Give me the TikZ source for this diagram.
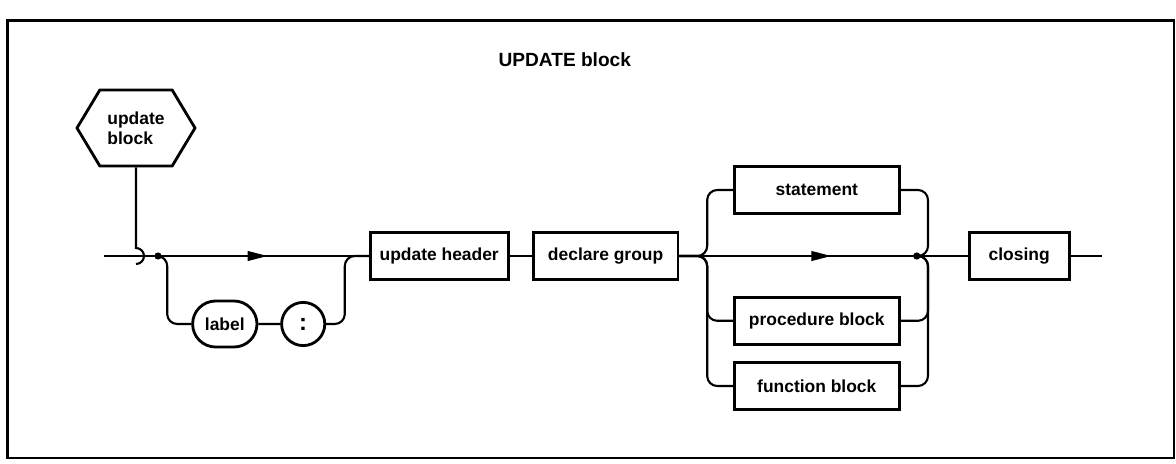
\documentclass[tikz,border=0pt]{standalone}
\usepackage{fontspec}
\setmainfont{Liberation Sans}
\usetikzlibrary{shapes.symbols,shapes.misc,arrows.meta,decorations.markings}
\tikzset{
  midarrow/.style={postaction={decorate},decoration={markings,mark=at position #1 with {\arrow{Triangle[length=0.5cm,width=0.24cm]}}}},
  rail/.style={rounded corners=0.25cm}
}
\begin{document}
\begin{tikzpicture}[line width=1.5pt, font=\fontsize{12.4}{14.5}\selectfont\bfseries]
        \useasboundingbox (0,0) rectangle (29.4,-11.6);
        \draw[line width=2pt] (0.18,-0.52) rectangle (29.35,-11.45);
        \node[font=\fontsize{13.6}{16}\selectfont\bfseries] (T) at (14.12,-1.5) {UPDATE block};
        \begin{scope}[every node/.style={draw,line width=2pt,minimum height=1.18cm,inner sep=2pt}]
            \node [signal,signal to=west and east,signal pointer angle=118,minimum width=2.95cm,minimum height=1.9cm,align=left](UB) at (3.4,-3.2) {update\\block};
            \node [rounded rectangle,minimum width=1.75cm,minimum height=1.15cm](LB) at (5.62,-8.1) {label};
            \node [circle,minimum size=1.08cm,font=\fontsize{17}{17}\selectfont\bfseries](CO) at (7.58,-8.1) {:};
            \node [minimum width=3.45cm](UH) at (10.98,-6.4) {update header};
            \node [minimum width=3.62cm](DG) at (15.14,-6.4) {declare group};
            \node [minimum width=4.12cm](ST) at (20.42,-4.75) {statement};
            \node [minimum width=4.12cm](PB) at (20.42,-8.02) {procedure block};
            \node [minimum width=4.12cm](FB) at (20.42,-9.65) {function block};
            \node [minimum width=2.5cm](CL) at (25.48,-6.4) {closing};
        \end{scope}
        \coordinate (in) at (2.6,-6.4); \coordinate (hk) at (3.4,-6.2); \coordinate (S) at (3.95,-6.4);
        \coordinate (L1) at (4.18,-6.4); \coordinate (L2) at (8.62,-6.4);
        \coordinate (R1) at (17.68,-6.4); \coordinate (R2) at (23.2,-6.4); \coordinate (J) at (22.92,-6.4);
        \coordinate (out) at (27.55,-6.4);
        \draw (UB) -- (hk) arc[start angle=90,end angle=-90,radius=0.2];
        \draw (in) -- (S); \draw [midarrow=0.52](S) -- (UH);
        \fill (S) circle (0.09); \fill (J) circle (0.09);
        \draw [rail](S) -- (L1) |- (LB); \draw (LB) -- (CO); \draw [rail](CO) -| (L2) -- (UH);
        \draw (UH) -- (DG);
        \draw [midarrow=0.64](DG) -- (J);
        \draw [rail](DG) -- (R1) |- (ST); \draw [rail](DG) -- (R1) |- (PB); \draw [rail](DG) -- (R1) |- (FB);
        \draw [rail](ST) -| (R2) -- (J); \draw [rail](PB) -| (R2) -- (J); \draw [rail](FB) -| (R2) -- (J);
        \draw (J) -- (CL); \draw (CL) -- (out);
\end{tikzpicture}
\end{document}
